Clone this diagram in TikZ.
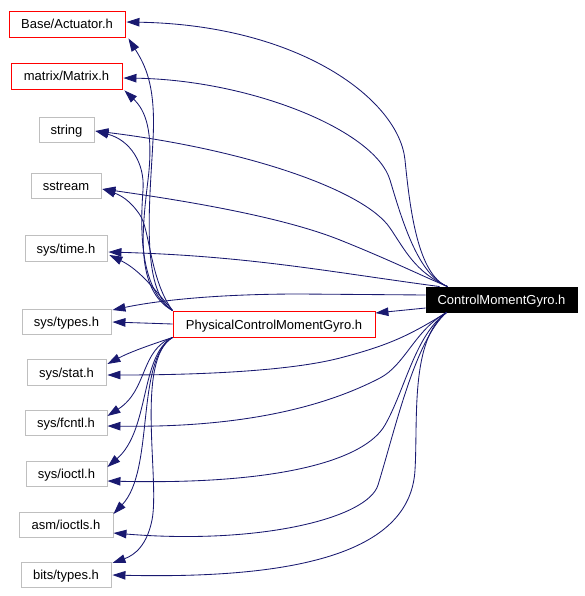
\documentclass[tikz,border=0pt]{standalone}
\usepackage{fontspec}
\setmainfont{Liberation Sans}
\usetikzlibrary{arrows.meta,calc}
\definecolor{edgec}{RGB}{25,25,112}
\definecolor{grayb}{RGB}{191,191,191}
\definecolor{redb}{RGB}{255,0,0}
\begin{document}
\begin{tikzpicture}[x=1pt,y=-1pt,
 box/.style={draw, rectangle, inner sep=0pt, fill=white, font=\fontsize{13}{15}\selectfont, text height=10pt, text depth=0pt, line width=0.9pt},
 graybox/.style={box, draw=grayb},
 redbox/.style={box, draw=redb},
 blackbox/.style={box, draw=black, fill=black, text=white},
 edge/.style={draw=edgec, line width=0.85pt, -{Triangle[length=13pt,width=8.5pt]}}]
\useasboundingbox (0,0) rectangle (585,596);
% nodes
\node[redbox, minimum width=116pt, minimum height=26pt] (act) at (67,24) {Base/Actuator.h};
\node[redbox, minimum width=111pt, minimum height=26pt] (mat) at (66.5,76) {matrix/Matrix.h};
\node[graybox, minimum width=55pt, minimum height=25pt] (str) at (66.5,129.5) {string};
\node[graybox, minimum width=70pt, minimum height=25pt] (sst) at (66,185.5) {sstream};
\node[graybox, minimum width=82pt, minimum height=26pt] (tim) at (66,248) {sys/time.h};
\node[graybox, minimum width=89pt, minimum height=25pt] (typ) at (66.5,321.5) {sys/types.h};
\node[graybox, minimum width=79pt, minimum height=26pt] (sta) at (66.5,372) {sys/stat.h};
\node[graybox, minimum width=82pt, minimum height=25pt] (fcn) at (66,422.5) {sys/fcntl.h};
\node[graybox, minimum width=81pt, minimum height=25pt] (ioc) at (66.5,473.5) {sys/ioctl.h};
\node[graybox, minimum width=94pt, minimum height=25pt] (ics) at (66,524.5) {asm/ioctls.h};
\node[graybox, minimum width=90pt, minimum height=25pt] (bit) at (66,574.5) {bits/types.h};
\node[redbox, minimum width=202pt, minimum height=26pt] (pcmg) at (274,324) {PhysicalControlMomentGyro.h};
\node[blackbox, minimum width=151pt, minimum height=25pt] (cmg) at (501.5,299.5) {ControlMomentGyro.h};
% edges from ControlMomentGyro.h
\draw[edge] ($(cmg.north west)+(22,0)$) .. controls (418,275) and (410,210) .. (405,160) .. controls (399,100) and (300,25) .. ($(act.east)+(1,-2)$);
\draw[edge] ($(cmg.north west)+(22,0)$) .. controls (418,275) and (402,220) .. (390,180) .. controls (375,130) and (250,80) .. ($(mat.east)+(1,2)$);
\draw[edge] ($(cmg.north west)+(22,0)$) .. controls (415,272) and (405,250) .. (390,228) .. controls (365,191) and (250,150) .. ($(str.east)+(1,1.5)$);
\draw[edge] ($(cmg.north west)+(22,0)$) .. controls (420,275) and (390,260) .. (340,240) .. controls (280,216) and (180,200) .. ($(sst.east)+(1,3.5)$);
\draw[edge] ($(cmg.north west)+(14,0)$) .. controls (330,272) and (250,256) .. ($(tim.east)+(1,4)$);
\draw[edge] ($(cmg.west)+(0,-4.5)$) -- (300,294) .. controls (220,294) and (160,300) .. ($(typ.east)+(1,-11.5)$);
\draw[edge] ($(cmg.west)+(0,8.5)$) -- ($(pcmg.east)+(0,-11)$);
\draw[edge] ($(cmg.south west)+(21,0)$) .. controls (410,335) and (390,345) .. (340,358) .. controls (290,371) and (200,375) .. ($(sta.east)+(1,3)$);
\draw[edge] ($(cmg.south west)+(21,0)$) .. controls (415,330) and (405,365) .. (380,378) .. controls (330,404) and (250,428) .. ($(fcn.east)+(0,3.5)$);
\draw[edge] ($(cmg.south west)+(21,0)$) .. controls (415,335) and (405,390) .. (385,425) .. controls (365,460) and (280,485) .. ($(ioc.east)+(0,7.5)$);
\draw[edge] ($(cmg.south west)+(21,0)$) .. controls (415,340) and (395,430) .. (378,485) .. controls (368,518) and (260,545) .. ($(ics.east)+(0,8.5)$);
\draw[edge] ($(cmg.south west)+(21,0)$) .. controls (410,340) and (418,420) .. (415,470) .. controls (411,540) and (330,580) .. ($(bit.east)+(1,0.5)$);
% edges from PhysicalControlMomentGyro.h
\draw[edge] (pcmg.north west) .. controls (140,290) and (150,200) .. (153,140) .. controls (156,85) and (145,65) .. ($(act.south east)+(3,1)$);
\draw[edge] (pcmg.north west) .. controls (135,290) and (142,230) .. (148,180) .. controls (154,130) and (145,110) .. ($(mat.south east)+(2,1)$);
\draw[edge] (pcmg.north west) .. controls (140,290) and (140,230) .. (143,190) .. controls (145,163) and (130,140) .. ($(str.east)+(1,1.5)$);
\draw[edge] (pcmg.north west) .. controls (150,280) and (150,230) .. (140,215) .. controls (130,200) and (120,195) .. ($(sst.east)+(1,3.5)$);
\draw[edge] (pcmg.north west) .. controls (155,290) and (140,270) .. ($(tim.east)+(2,7)$);
\draw[edge] (pcmg.west) -- ($(typ.east)+(1,0.5)$);
\draw[edge] (pcmg.south west) .. controls (150,345) and (130,352) .. ($(sta.east)+(1,-8)$);
\draw[edge] (pcmg.south west) .. controls (140,350) and (148,390) .. ($(fcn.east)+(0,-6.5)$);
\draw[edge] (pcmg.south west) .. controls (140,355) and (150,430) .. ($(ioc.east)+(0,-6.5)$);
\draw[edge] (pcmg.south west) .. controls (135,360) and (155,470) .. ($(ics.east)+(0,-10.5)$);
\draw[edge] (pcmg.south west) .. controls (135,360) and (160,480) .. (152,520) .. controls (147,545) and (135,555) .. ($(bit.east)+(1,-11.5)$);
\end{tikzpicture}
\end{document}
